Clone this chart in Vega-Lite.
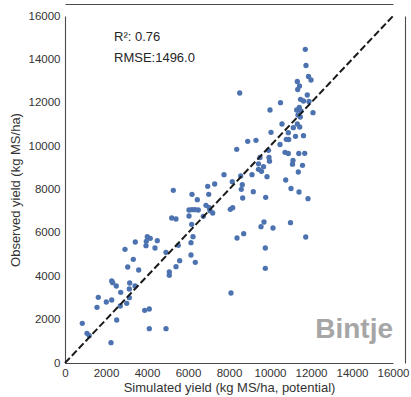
{
  "$schema": "https://vega.github.io/schema/vega-lite/v6.json",
  "width": 328,
  "height": 347,
  "autosize": {"type": "none"},
  "padding": {"left": 65, "top": 16, "right": 18, "bottom": 34},
  "background": "white",
  "config": {
    "view": {"stroke": null},
    "font": "Liberation Sans",
    "axis": {"grid": false, "ticks": false, "domainColor": "#4a4a4a", "domainWidth": 1.1, "labelFont": "Liberation Sans", "labelFontSize": 11.5, "labelColor": "#333333", "labelOverlap": false, "titleFont": "Liberation Sans", "titleFontSize": 13, "titleFontWeight": "normal", "titleColor": "#333333"}
  },
  "datasets": {
    "pts": [
      {"sim": 844, "obs": 1831}, {"sim": 1073, "obs": 1369}, {"sim": 1185, "obs": 1259}, {"sim": 2244, "obs": 936},
      {"sim": 2522, "obs": 1983}, {"sim": 1561, "obs": 2568}, {"sim": 1624, "obs": 3029}, {"sim": 2015, "obs": 2813},
      {"sim": 2278, "obs": 2905}, {"sim": 2278, "obs": 3781}, {"sim": 2327, "obs": 3703}, {"sim": 2502, "obs": 3550},
      {"sim": 2717, "obs": 3260}, {"sim": 2698, "obs": 2628}, {"sim": 3010, "obs": 2753}, {"sim": 3137, "obs": 3011},
      {"sim": 3137, "obs": 3412}, {"sim": 3156, "obs": 3689}, {"sim": 3415, "obs": 3550}, {"sim": 3059, "obs": 4427},
      {"sim": 3332, "obs": 4782}, {"sim": 3595, "obs": 4288}, {"sim": 2927, "obs": 5243}, {"sim": 3429, "obs": 5579},
      {"sim": 3951, "obs": 5409}, {"sim": 3966, "obs": 5612}, {"sim": 4015, "obs": 5824}, {"sim": 4161, "obs": 5750},
      {"sim": 4390, "obs": 5303}, {"sim": 4502, "obs": 5639}, {"sim": 3888, "obs": 2430}, {"sim": 4112, "obs": 2490},
      {"sim": 4112, "obs": 1582}, {"sim": 4927, "obs": 1582}, {"sim": 4927, "obs": 5104}, {"sim": 5088, "obs": 4196},
      {"sim": 5088, "obs": 4044}, {"sim": 5415, "obs": 4440}, {"sim": 5595, "obs": 4717}, {"sim": 5527, "obs": 5427},
      {"sim": 6146, "obs": 5547}, {"sim": 6146, "obs": 4980}, {"sim": 6356, "obs": 4643}, {"sim": 6244, "obs": 5824},
      {"sim": 6180, "obs": 6395}, {"sim": 5205, "obs": 6686}, {"sim": 5415, "obs": 6640}, {"sim": 5283, "obs": 7963},
      {"sim": 6049, "obs": 6778}, {"sim": 6049, "obs": 7055}, {"sim": 6195, "obs": 7069}, {"sim": 6341, "obs": 7069},
      {"sim": 6502, "obs": 7055}, {"sim": 6454, "obs": 7530}, {"sim": 6195, "obs": 7779}, {"sim": 6746, "obs": 6764},
      {"sim": 6878, "obs": 7272}, {"sim": 7039, "obs": 7161}, {"sim": 7073, "obs": 7023}, {"sim": 7205, "obs": 6917},
      {"sim": 7010, "obs": 7779}, {"sim": 6961, "obs": 8148}, {"sim": 7302, "obs": 8254}, {"sim": 7756, "obs": 8682},
      {"sim": 8161, "obs": 8360}, {"sim": 8063, "obs": 7087}, {"sim": 8180, "obs": 7161}, {"sim": 8390, "obs": 5764},
      {"sim": 8717, "obs": 5962}, {"sim": 8600, "obs": 8009}, {"sim": 8649, "obs": 8221}, {"sim": 8571, "obs": 8623},
      {"sim": 8668, "obs": 7608}, {"sim": 9122, "obs": 8682}, {"sim": 9185, "obs": 7899}, {"sim": 8376, "obs": 9854},
      {"sim": 8912, "obs": 10223}, {"sim": 9317, "obs": 10269}, {"sim": 9512, "obs": 9476}, {"sim": 9439, "obs": 9185},
      {"sim": 9439, "obs": 8932}, {"sim": 9585, "obs": 8839}, {"sim": 9683, "obs": 9051}, {"sim": 9951, "obs": 9476},
      {"sim": 9976, "obs": 9305}, {"sim": 9854, "obs": 8590}, {"sim": 9790, "obs": 7640}, {"sim": 9707, "obs": 6502},
      {"sim": 9561, "obs": 6285}, {"sim": 10146, "obs": 6225}, {"sim": 9771, "obs": 5303}, {"sim": 9771, "obs": 4367},
      {"sim": 9927, "obs": 9808}, {"sim": 10488, "obs": 10075}, {"sim": 8098, "obs": 3228}, {"sim": 11722, "obs": 14465},
      {"sim": 11756, "obs": 13718}, {"sim": 11878, "obs": 13211}, {"sim": 12000, "obs": 13049}, {"sim": 11332, "obs": 12980},
      {"sim": 11439, "obs": 12772}, {"sim": 11351, "obs": 12611}, {"sim": 11819, "obs": 12357}, {"sim": 11488, "obs": 12159},
      {"sim": 11634, "obs": 12081}, {"sim": 11902, "obs": 12058}, {"sim": 10512, "obs": 12003}, {"sim": 8522, "obs": 12450},
      {"sim": 10000, "obs": 11666}, {"sim": 11302, "obs": 11666}, {"sim": 11429, "obs": 11790}, {"sim": 11512, "obs": 11620},
      {"sim": 12098, "obs": 11541}, {"sim": 11366, "obs": 11435}, {"sim": 11478, "obs": 11343}, {"sim": 10585, "obs": 11020},
      {"sim": 11332, "obs": 11020}, {"sim": 11449, "obs": 10882}, {"sim": 11137, "obs": 10850}, {"sim": 10049, "obs": 10638},
      {"sim": 10893, "obs": 10619}, {"sim": 11244, "obs": 10453}, {"sim": 11634, "obs": 10481}, {"sim": 10795, "obs": 10315},
      {"sim": 10912, "obs": 10306}, {"sim": 10732, "obs": 9715}, {"sim": 10893, "obs": 9660}, {"sim": 11405, "obs": 9660},
      {"sim": 11693, "obs": 9669}, {"sim": 11122, "obs": 9337}, {"sim": 11098, "obs": 9167}, {"sim": 11585, "obs": 9116},
      {"sim": 11381, "obs": 8807}, {"sim": 10766, "obs": 8438}, {"sim": 11024, "obs": 8046}, {"sim": 11415, "obs": 7885},
      {"sim": 11854, "obs": 7576}, {"sim": 11000, "obs": 6469}, {"sim": 11742, "obs": 5810}
    ],
    "diag": [{"sim": 0, "obs": 0}, {"sim": 16000, "obs": 16000}],
    "notes": [
      {"sim": 2390, "obs": 14861, "label": "R²: 0.76"},
      {"sim": 2390, "obs": 13893, "label": "RMSE:1496.0"}
    ],
    "tag": [{"sim": 16000, "obs": 1140, "label": "Bintje"}]
  },
  "layer": [
    {
      "data": {"name": "pts"},
      "mark": {"type": "point", "filled": true, "shape": "circle", "size": 28, "color": "#4c72b0", "opacity": 1},
      "encoding": {
        "x": {"field": "sim", "type": "quantitative", "scale": {"domain": [0, 16000], "nice": false},
              "axis": {"orient": "bottom", "values": [0, 2000, 4000, 6000, 8000, 10000, 12000, 14000, 16000], "format": "d", "labelPadding": 4, "labelBound": false, "labelFlush": false, "title": "Simulated yield (kg MS/ha, potential)", "titlePadding": 3}},
        "y": {"field": "obs", "type": "quantitative", "scale": {"domain": [0, 16000], "nice": false},
              "axis": {"orient": "left", "values": [0, 2000, 4000, 6000, 8000, 10000, 12000, 14000, 16000], "format": "d", "labelPadding": 5, "labelFlush": false, "title": "Observed yield (kg MS/ha)", "titlePadding": 6}}
      }
    },
    {
      "data": {"name": "diag"},
      "mark": {"type": "line", "color": "#1a1a1a", "strokeWidth": 2, "strokeDash": [7, 3]},
      "encoding": {
        "x": {"field": "sim", "type": "quantitative", "axis": {"orient": "top", "offset": 12, "labels": false, "ticks": false, "title": null}},
        "y": {"field": "obs", "type": "quantitative", "axis": {"orient": "right", "offset": 12, "labels": false, "ticks": false, "title": null}}
      }
    },
    {
      "data": {"name": "notes"},
      "mark": {"type": "text", "align": "left", "baseline": "alphabetic", "fontSize": 13, "color": "#262626", "font": "Liberation Sans"},
      "encoding": {
        "x": {"field": "sim", "type": "quantitative", "axis": null},
        "y": {"field": "obs", "type": "quantitative", "axis": null},
        "text": {"field": "label"}
      }
    },
    {
      "data": {"name": "tag"},
      "mark": {"type": "text", "align": "right", "baseline": "alphabetic", "fontSize": 28, "fontWeight": "bold", "color": "#a6a6a6", "font": "Liberation Sans"},
      "encoding": {
        "x": {"field": "sim", "type": "quantitative", "axis": null},
        "y": {"field": "obs", "type": "quantitative", "axis": null},
        "text": {"field": "label"}
      }
    }
  ],
  "resolve": {"axis": {"x": "independent", "y": "independent"}}
}
